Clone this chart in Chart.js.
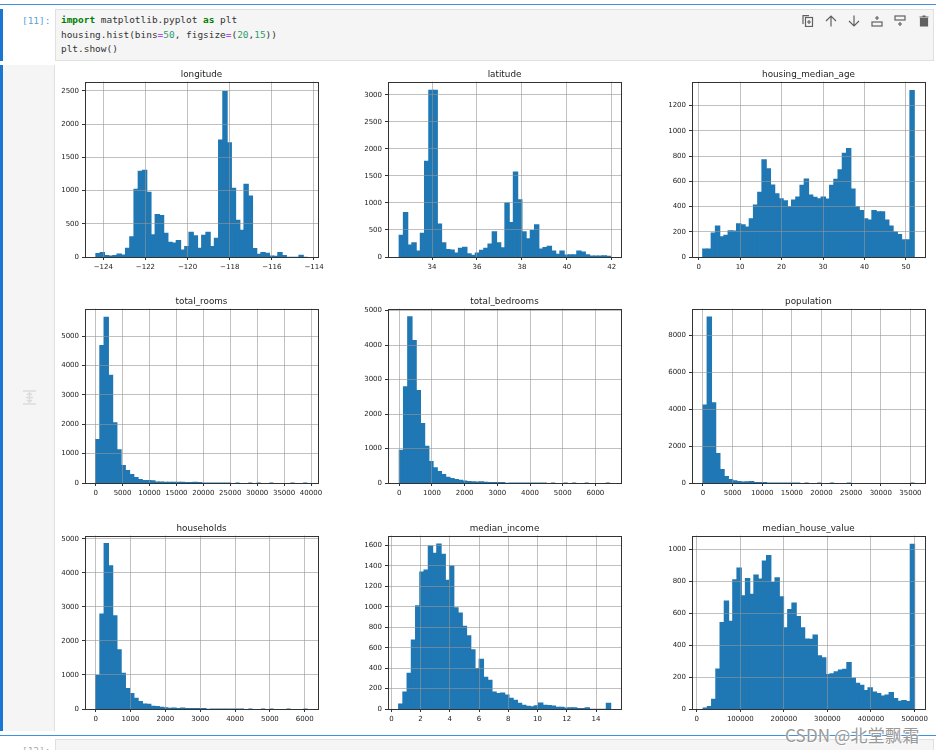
<!DOCTYPE html>
<html>
<head>
<meta charset="utf-8">
<script src="https://cdn.jsdelivr.net/npm/chart.js@4"></script>
<style>
html, body { margin: 0; padding: 0; width: 936px; height: 750px; overflow: hidden; background: #fff; }
body { position: relative; font-family: "DejaVu Sans", sans-serif; }
.box { position: absolute; box-sizing: border-box; }
.code { font: 9.45px/14.5px "DejaVu Sans Mono", monospace; color: #333; white-space: pre; position: absolute; left: 61px; top: 13px; }
.kw { color: #008000; font-weight: bold; }
.op { color: #aa22ff; }
.num { color: #2f9e6e; }
.prompt { position: absolute; font: 9.45px "DejaVu Sans Mono", monospace; color: #5a9fd4; }
canvas { position: absolute; filter: blur(0.3px); }
.mark { position: absolute; left: 785px; top: 722px; font: 17px "Noto Sans CJK SC", "DejaVu Sans", sans-serif; color: #999; text-shadow: 0 0 1px #fff, 1px 1px 1px #fff; letter-spacing: .2px; white-space: nowrap; }
svg.tool { position: absolute; top: 15px; width: 12px; height: 12px; fill: none; stroke: #616161; stroke-width: 1.2; }
</style>
</head>
<body>
<div class="box" style="left:0;top:4px;width:936px;height:1px;background:#3f93dd"></div>
<div class="box" style="left:0;top:9px;width:3px;height:52px;background:#1976d2"></div>
<div class="box" style="left:55px;top:9px;width:879px;height:52px;background:#f5f5f5;border:1px solid #e0e0e0"></div>
<div class="prompt" style="left:22px;top:15px">[11]:</div>
<div class="code"><span class="kw">import</span> matplotlib.pyplot <span class="kw">as</span> plt
housing.hist(bins<span class="op">=</span><span class="num">50</span>, figsize<span class="op">=</span>(<span class="num">20</span>,<span class="num">15</span>))
plt.show()</div>

<svg class="tool" style="left:802px" viewBox="0 0 12 12"><rect x="3.5" y="2.5" width="7" height="9"/><path d="M1 9V.7h6M7 5v4M5 7h4"/></svg>
<svg class="tool" style="left:825px" viewBox="0 0 12 12"><path d="M6 11.5V1M1 6l5-5 5 5"/></svg>
<svg class="tool" style="left:848px" viewBox="0 0 12 12"><path d="M6 .5V11M1 6l5 5 5-5"/></svg>
<svg class="tool" style="left:871px" viewBox="0 0 12 12"><rect x="1" y="7" width="10" height="4"/><path d="M6 1v4M4 3h4"/></svg>
<svg class="tool" style="left:894px" viewBox="0 0 12 12"><rect x="1" y="1" width="10" height="4"/><path d="M6 7v4M4 9h4"/></svg>
<svg class="tool" style="left:918px" viewBox="0 0 12 12"><path d="M2.5 3.5h7V11h-7zM1.5 2h9M4.5 1h3" fill="#616161"/></svg>

<div class="box" style="left:0;top:65px;width:3px;height:666px;background:#1976d2"></div>
<div class="box" style="left:3px;top:65px;width:52px;height:666px;background:#f5f5f5;border-right:1px solid #e0e0e0"></div>
<svg style="position:absolute;left:23px;top:390px;width:13px;height:15px" viewBox="0 0 13 15" fill="none" stroke="#dcdcdc" stroke-width="1.6"><path d="M0 1h13M0 14h13M6.5 2v11M4 5l2.5-2L9 5M4 10l2.5 2L9 10M3 7.5h7"/></svg>

<div class="box" style="left:0;top:735px;width:936px;height:1px;background:#3f93dd"></div>
<div class="box" style="left:55px;top:739px;width:879px;height:20px;background:#f5f5f5;border:1px solid #e0e0e0"></div>
<div class="prompt" style="left:22px;top:745px;color:#a9a9a9">[12]:</div>
<div class="mark">CSDN @北堂飘霜</div>

<script>
// bar heights, 50 bins each
var longitude = [50,65,20,15,20,45,30,130,305,1020,1290,1305,975,335,640,625,355,220,210,245,105,155,370,320,130,325,370,155,280,1760,2490,1720,1035,550,400,1095,915,125,40,65,55,15,10,65,20,3,3,3,25,3];
var latitude = [400,820,220,260,110,440,1770,3085,3085,610,260,135,130,70,160,180,60,30,70,125,160,240,465,260,170,1000,635,1570,1060,465,335,490,595,145,175,195,110,50,110,35,40,40,110,90,40,15,15,15,20,10];
var housingMedianAge = [62,62,190,245,160,172,208,205,262,255,238,303,412,512,770,698,570,500,462,445,398,452,475,568,618,490,472,462,475,460,568,615,690,822,860,538,398,368,303,293,368,358,358,293,245,198,178,135,135,1320];
var totalRooms = [1480,4680,5640,3670,2050,1130,590,420,285,185,120,85,80,70,30,30,25,25,25,25,25,8,10,22,6,3,3,2,2,1,1,1,0,1,0,0,1,0,1,0,0,1,0,0,0,0,1,0,0,1];
var totalBedrooms = [950,2790,4820,4130,2680,1720,1060,620,440,330,240,165,130,100,75,55,40,35,25,30,18,15,15,12,6,4,3,3,2,2,1,1,1,1,1,0,1,0,0,1,0,1,0,0,1,0,0,0,0,1];
var population = [4220,8980,4340,1590,720,340,190,110,70,50,60,70,12,15,8,4,3,2,2,1,1,1,1,0,1,0,0,1,0,0,1,0,0,0,1,0,0,0,0,0,0,0,0,0,0,0,0,0,0,1];
var households = [990,2790,4860,4210,2740,1740,1050,600,450,310,215,145,140,80,70,50,35,20,30,15,28,12,6,10,8,10,4,3,3,2,1,1,1,1,1,0,1,0,0,1,0,1,0,0,0,1,0,0,0,1];
var medianIncome = [48,165,350,675,1010,1340,1360,1595,1525,1615,1515,1260,1400,990,940,810,715,580,395,485,310,280,165,150,155,135,105,85,55,35,25,22,32,58,35,33,28,15,15,8,12,12,5,5,12,3,3,3,3,55];
var medianHouseValue = [5,15,60,250,540,675,548,808,882,708,815,718,838,812,925,960,790,820,702,508,622,662,578,508,438,435,463,333,320,215,220,232,243,248,290,192,160,148,115,132,105,97,80,87,103,65,48,52,47,1030];

// tick values as printed on the axes
var longitudeX = [-124,-122,-120,-118,-116,-114], longitudeY = [0,500,1000,1500,2000,2500];
var latitudeX = [34,36,38,40,42], latitudeY = [0,500,1000,1500,2000,2500,3000];
var ageX = [0,10,20,30,40,50], ageY = [0,200,400,600,800,1000,1200];
var roomsX = [0,5000,10000,15000,20000,25000,30000,35000,40000], roomsY = [0,1000,2000,3000,4000,5000];
var bedroomsX = [0,1000,2000,3000,4000,5000,6000], bedroomsY = [0,1000,2000,3000,4000,5000];
var populationX = [0,5000,10000,15000,20000,25000,30000,35000], populationY = [0,2000,4000,6000,8000];
var householdsX = [0,1000,2000,3000,4000,5000,6000], householdsY = [0,1000,2000,3000,4000,5000];
var incomeX = [0,2,4,6,8,10,12,14], incomeY = [0,200,400,600,800,1000,1200,1400,1600];
var houseValueX = [0,100000,200000,300000,400000,500000], houseValueY = [0,200,400,600,800,1000];

// name, values, bin range, x limits, y max, x ticks, y ticks
var panels = [
  ['longitude', longitude, [-124.35,-114.31], [-124.87,-113.81], 2641, longitudeX, longitudeY],
  ['latitude', latitude, [32.54,41.95], [32.04,42.41], 3248, latitudeX, latitudeY],
  ['housing_median_age', housingMedianAge, [1,52], [-1.6,54.6], 1391, ageX, ageY],
  ['total_rooms', totalRooms, [2,39320], [-1977,41300], 5943, roomsX, roomsY],
  ['total_bedrooms', totalBedrooms, [1,6445], [-346,6784], 5058, bedroomsX, bedroomsY],
  ['population', population, [3,35682], [-1848,37460], 9440, populationX, populationY],
  ['households', households, [1,6082], [-306,6380], 5098, householdsX, householdsY],
  ['median_income', medianIncome, [0.4999,15.0001], [-0.23,15.71], 1698, incomeX, incomeY],
  ['median_house_value', medianHouseValue, [14999,500001], [-10700,524000], 1085, houseValueX, houseValueY]
];

var colLeft = [85, 388, 692], colWidth = 233;
var rowTop = [82, 309, 536], rowHeight = [175, 174, 173];
var sideWidth = 36, xAxisHeight = 24, titleHeight = 20, gridColor = 'rgba(150,150,150,0.6)';

var frame = {
  id: 'frame',
  afterDraw: function (chart) {
    var a = chart.chartArea, c = chart.ctx;
    c.save();
    c.strokeStyle = '#333';
    c.lineWidth = 1;
    c.strokeRect(Math.round(a.left) + 0.5, Math.round(a.top) + 0.5, Math.round(a.width), Math.round(a.height));
    c.restore();
  }
};

function binPoints(values, range) {
  var w = (range[1] - range[0]) / values.length;
  return values.map(function (v, i) { return { x: range[0] + (i + 0.5) * w, y: v }; });
}

function tickText(v) { return String(v).replace('-', '\u2212'); }

function setTicks(list) {
  return function (s) { s.ticks = list.map(function (v) { return { value: v }; }); };
}

panels.forEach(function (p, i) {
  var col = i % 3, row = Math.floor(i / 3);
  var cv = document.createElement('canvas');
  cv.width = sideWidth + colWidth + sideWidth;
  cv.height = titleHeight + rowHeight[row] + xAxisHeight;
  cv.style.left = (colLeft[col] - sideWidth) + 'px';
  cv.style.top = (rowTop[row] - titleHeight) + 'px';
  document.body.appendChild(cv);

  new Chart(cv.getContext('2d'), {
    type: 'bar',
    data: { datasets: [{
      data: binPoints(p[1], p[2]),
      backgroundColor: '#1f77b4',
      borderColor: '#1f77b4',
      borderWidth: 0,
      // closes the seams between bars, but keeps near-empty bins flat on the axis
      inflateAmount: function (c) { return c.raw && c.raw.y < 5 ? 0 : 0.6; },
      barPercentage: 1,
      categoryPercentage: 1
    }] },
    options: {
      responsive: false,
      animation: false,
      layout: { padding: { top: 0, right: sideWidth, bottom: 0, left: 0 } },
      plugins: {
        legend: { display: false },
        tooltip: { enabled: false },
        title: {
          display: true,
          fullSize: false,
          text: p[0],
          color: '#222',
          font: { family: 'DejaVu Sans', size: 8.8, weight: 'normal', lineHeight: 1.2 },
          padding: { top: 7, bottom: 2 }
        }
      },
      scales: {
        x: {
          type: 'linear',
          min: p[3][0],
          max: p[3][1],
          offset: false,
          grid: { offset: false, color: gridColor, lineWidth: 1, tickLength: 3, tickColor: '#333', z: 1 },
          border: { display: false },
          afterBuildTicks: setTicks(p[5]),
          ticks: {
            autoSkip: false,
            maxRotation: 0,
            padding: 3,
            color: '#222',
            font: { family: 'DejaVu Sans', size: 7 },
            callback: tickText
          },
          afterFit: function (s) { s.height = xAxisHeight; }
        },
        y: {
          min: 0,
          max: p[4],
          grid: { color: gridColor, lineWidth: 1, tickLength: 3, tickColor: '#333', z: 1 },
          border: { display: false },
          afterBuildTicks: setTicks(p[6]),
          ticks: {
            autoSkip: false,
            padding: 3,
            color: '#222',
            font: { family: 'DejaVu Sans', size: 7 },
            callback: tickText
          },
          afterFit: function (s) { s.width = sideWidth; }
        }
      }
    },
    plugins: [frame]
  });
});
</script>
</body>
</html>
